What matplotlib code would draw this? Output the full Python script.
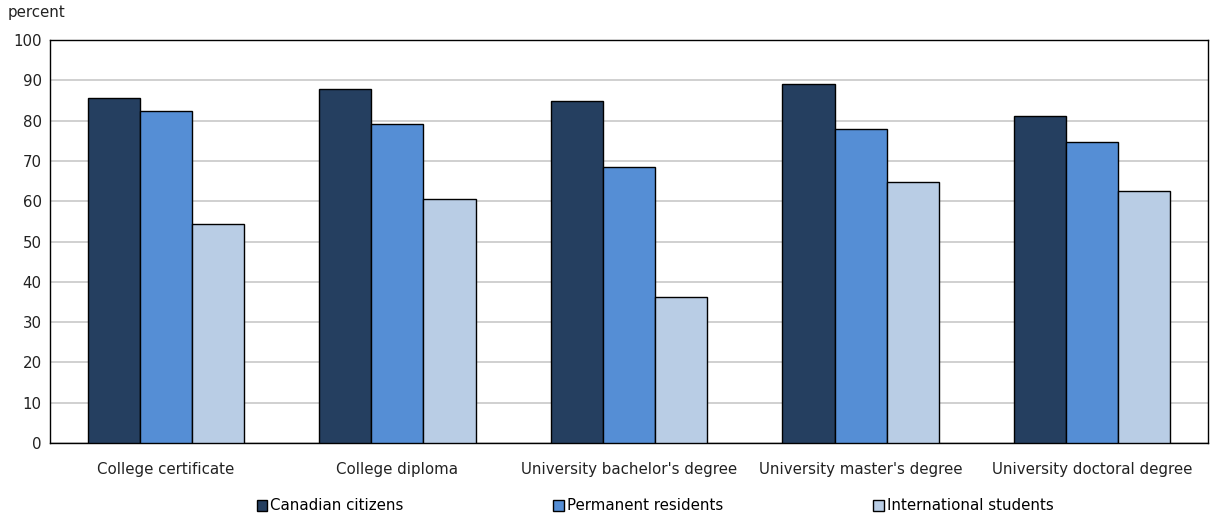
import numpy as np
import matplotlib
matplotlib.use('Agg')
import matplotlib.pyplot as plt

categories = ['College certificate', 'College diploma', "University bachelor's degree",
              "University master's degree", 'University doctoral degree']
canadian = [85.7, 87.8, 84.9, 89.2, 81.1]
permanent = [82.5, 79.2, 68.6, 77.9, 74.7]
international = [54.3, 60.5, 36.2, 64.8, 62.5]
series_names = ['Canadian citizens', 'Permanent residents', 'International students']
colors = ['#253f60', '#558ed5', '#b9cde5']

plt.rcParams['font.family'] = ['DejaVu Sans']
plt.rcParams['font.size'] = 9

fig = plt.figure(figsize=(12.1, 5.15), dpi=100)
ax = fig.add_axes([50/1210, 1-443/515, 1158/1210, 403/515])

x = np.arange(len(categories))
w = 0.225
for i, (vals, name) in enumerate(zip([canadian, permanent, international], series_names)):
    ax.bar(x + (i-1)*w, vals, w, color=colors[i], edgecolor='black', linewidth=1.0,
           label=name, zorder=3)

ax.set_xlim(-0.5, len(categories)-0.5)
ax.set_ylim(0, 100)
ax.set_yticks(range(0, 101, 10))
ax.yaxis.grid(True, color='#c8c8c8', linewidth=1.2, zorder=0)
ax.set_axisbelow(True)
ax.tick_params(axis='both', length=0, labelsize=10.8, colors='#222222')
ax.tick_params(axis='x', pad=14)
ax.tick_params(axis='y', pad=6)
ax.set_xticks(x)
ax.set_xticklabels(categories)
for s in ax.spines.values():
    s.set_color('black')
    s.set_linewidth(1.0)

fig.text(8/1210, 1-12/515, 'percent', fontsize=10.8, va='center', ha='left', color='#222222')

handles, labels = ax.get_legend_handles_labels()
fig.legend(handles, labels, loc='center', bbox_to_anchor=(655/1210, 1-506/515), ncol=3,
           frameon=False, fontsize=10.8, handlelength=0.7, handleheight=0.7,
           handletextpad=0.2, columnspacing=10.0)

fig.savefig('out.png', dpi=100)
